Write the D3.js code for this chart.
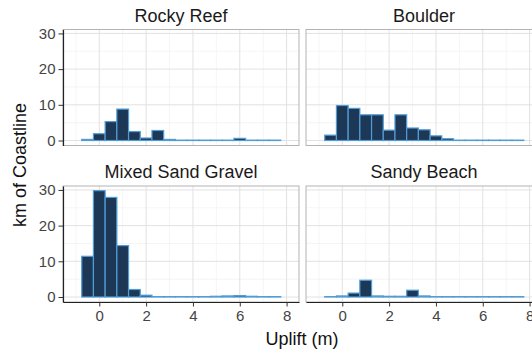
<!DOCTYPE html>
<html>
<head>
<meta charset="utf-8">
<script src="https://cdn.jsdelivr.net/npm/d3@7"></script>
<style>
  body { margin: 0; background: #fff; }
  text { font-family: "Liberation Sans", Arial, sans-serif; }
</style>
</head>
<body>
<svg id="chart" width="532" height="352"></svg>
<script>

// histogram bins (uplift, m) - bin centres, width 0.5
var binMids = [-0.5, 0, 0.5, 1, 1.5, 2, 2.5, 3, 3.5, 4, 4.5, 5, 5.5, 6, 6.5, 7, 7.5];
var binWidth = 0.5;

// km of coastline per bin, one array per shore type
var rockyReef       = [0.3, 1.9, 5.3, 8.8, 2.5, 0.7, 2.8, 0.3, 0.1, 0.1, 0.1, 0.1, 0.1, 0.6, 0.1, 0.1, 0.1];
var boulder         = [1.5, 9.8, 9.0, 7.2, 7.2, 2.9, 7.2, 3.5, 3.0, 1.3, 0.5, 0.1, 0.1, 0.1, 0.1, 0.1, 0.1];
var mixedSandGravel = [11.4, 29.8, 27.9, 14.4, 2.1, 0.5, 0.1, 0.1, 0.1, 0.1, 0.1, 0.2, 0.3, 0.4, 0.2, 0.1, 0.1];
var sandyBeach      = [0.1, 0.3, 1.1, 4.7, 0.3, 0.2, 0.2, 1.9, 0.3, 0.1, 0.1, 0.1, 0.1, 0.1, 0.1, 0.1, 0.1];

var facetNames = ["Rocky Reef", "Boulder", "Mixed Sand Gravel", "Sandy Beach"];
var facetValues = [rockyReef, boulder, mixedSandGravel, sandyBeach];

var xTicks = [0, 2, 4, 6, 8];
var xMinor = [-1, 1, 3, 5, 7];
var yTicks = [0, 10, 20, 30];
var yMinor = [5, 15, 25];

var svg = d3.select("#chart");

var panelW = 236, panelH = 116;
var colLeft = [63, 306];
var rowTop = [29.5, 186];

var x = d3.scaleLinear().domain([-1.55, 8.53]).range([0, panelW]);
var y = d3.scaleLinear().domain([-1.4, 31.1]).range([panelH, 0]);

facetNames.forEach(function(name, i) {
  var col = i % 2, row = Math.floor(i / 2);
  var g = svg.append("g")
    .attr("transform", `translate(${colLeft[col]},${rowTop[row]})`);

  // grid, minor first
  g.selectAll(".xminor").data(xMinor).enter().append("line")
    .attr("x1", d => x(d)).attr("x2", d => x(d))
    .attr("y1", 0).attr("y2", panelH)
    .attr("stroke", "#f0f0f0").attr("stroke-width", 0.7);
  g.selectAll(".yminor").data(yMinor).enter().append("line")
    .attr("x1", 0).attr("x2", panelW)
    .attr("y1", d => y(d)).attr("y2", d => y(d))
    .attr("stroke", "#f0f0f0").attr("stroke-width", 0.7);
  g.selectAll(".xmajor").data(xTicks).enter().append("line")
    .attr("x1", d => x(d)).attr("x2", d => x(d))
    .attr("y1", 0).attr("y2", panelH)
    .attr("stroke", "#e2e2e2").attr("stroke-width", 1);
  g.selectAll(".ymajor").data(yTicks).enter().append("line")
    .attr("x1", 0).attr("x2", panelW)
    .attr("y1", d => y(d)).attr("y2", d => y(d))
    .attr("stroke", "#e2e2e2").attr("stroke-width", 1);

  // bars
  g.selectAll("rect.bar")
    .data(facetValues[i].map((v, j) => ({ mid: binMids[j], value: v })))
    .enter()
    .append("rect")
    .attr("class", "bar")
    .attr("x", d => x(d.mid - binWidth / 2))
    .attr("width", d => x(d.mid + binWidth / 2) - x(d.mid - binWidth / 2))
    .attr("y", d => y(d.value))
    .attr("height", d => y(0) - y(d.value))
    .attr("fill", "#1d3756")
    .attr("stroke", "#509dd6")
    .attr("stroke-width", 1.2);

  // panel border
  g.append("rect")
    .attr("width", panelW).attr("height", panelH)
    .attr("fill", "none")
    .attr("stroke", "#b3b3b3")
    .attr("stroke-width", 1);

  // strip title
  g.append("text")
    .attr("x", panelW / 2)
    .attr("y", -8)
    .attr("text-anchor", "middle")
    .style("font-size", "18px")
    .style("fill", "#1a1a1a")
    .text(name);

  if (col === 0) {
    var ya = g.append("g")
      .call(d3.axisLeft(y).tickValues(yTicks).tickSize(4.5).tickSizeOuter(0).tickPadding(3));
    styleAxis(ya);
  }
  if (row === 1) {
    var xa = g.append("g")
      .attr("transform", `translate(0,${panelH})`)
      .call(d3.axisBottom(x).tickValues(xTicks).tickSize(4.5).tickSizeOuter(0).tickPadding(4));
    styleAxis(xa);
  }
});

function styleAxis(a) {
  a.select(".domain").attr("stroke", "#222").attr("stroke-width", 1.2);
  a.selectAll(".tick line").attr("stroke", "#333");
  a.selectAll(".tick text")
    .style("font-size", "15px")
    .style("font-family", "'Liberation Sans', Arial, sans-serif")
    .attr("fill", "#444");
}

// axis titles
svg.append("text")
  .attr("x", 302)
  .attr("y", 345)
  .attr("text-anchor", "middle")
  .style("font-size", "18px")
  .style("fill", "#111")
  .text("Uplift (m)");

svg.append("text")
  .attr("transform", "translate(26,165) rotate(-90)")
  .attr("text-anchor", "middle")
  .style("font-size", "18px")
  .style("fill", "#111")
  .text("km of Coastline");

</script>
</body>
</html>
